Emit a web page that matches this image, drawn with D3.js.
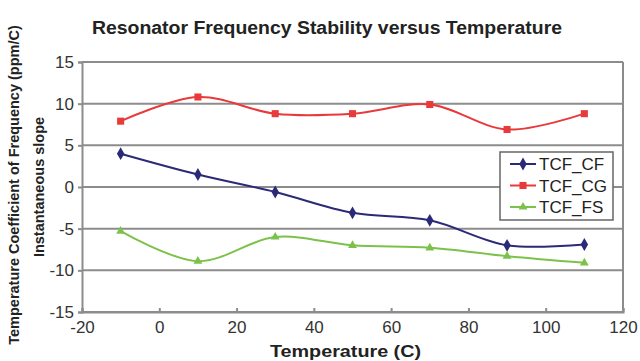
<!DOCTYPE html>
<html><head><meta charset="utf-8">
<script src="https://cdn.jsdelivr.net/npm/d3@7"></script>
<style>body{margin:0;background:#fff}svg{display:block}text{font-family:"Liberation Sans",Arial,sans-serif}</style>
</head><body><svg id="c" width="640" height="361"></svg>
<script>
const temps = [-10, 10, 30, 50, 70, 90, 110];
const tcfCF = [4.0, 1.5, -0.6, -3.1, -4.0, -7.0, -6.9];
const tcfCG = [7.9, 10.8, 8.8, 8.8, 9.9, 6.9, 8.8];
const tcfFS = [-5.3, -8.9, -6.0, -7.0, -7.3, -8.3, -9.1];
const seriesNames = ["TCF_CF", "TCF_CG", "TCF_FS"];
const xTicks = [-20, 0, 20, 40, 60, 80, 100, 120];
const yTicks = [-15, -10, -5, 0, 5, 10, 15];

const svg = d3.select("#c");
const L = 82, R = 623, T = 62, B = 312;
const x = d3.scaleLinear().domain([-20, 120]).range([L, R]);
const y = d3.scaleLinear().domain([-15, 15]).range([B, T]);
const grey = "#8c8c8c";

svg.append("text").attr("x", 92).attr("y", 34)
  .attr("font-weight", "bold").attr("font-size", 18).attr("fill", "#222")
  .attr("textLength", 470).attr("lengthAdjust", "spacingAndGlyphs")
  .text("Resonator Frequency Stability versus Temperature");

// gridlines
svg.append("g").selectAll("line").data(yTicks).join("line")
  .attr("x1", L).attr("x2", R).attr("y1", d => y(d)).attr("y2", d => y(d))
  .attr("stroke", grey).attr("stroke-width", 2);
// right border
svg.append("line").attr("x1", R).attr("x2", R).attr("y1", T).attr("y2", B)
  .attr("stroke", grey).attr("stroke-width", 2);

// axes
const fmt = d => String(d);
const ya = svg.append("g").attr("transform", `translate(${L},0)`)
  .call(d3.axisLeft(y).tickValues(yTicks).tickFormat(fmt).tickSize(4).tickPadding(4));
const xa = svg.append("g").attr("transform", `translate(0,${B})`)
  .call(d3.axisBottom(x).tickValues(xTicks).tickFormat(fmt).tickSize(-4).tickPadding(9));
[ya, xa].forEach(g => {
  g.select(".domain").attr("stroke", grey).attr("stroke-width", 2);
  g.selectAll(".tick line").attr("stroke", grey).attr("stroke-width", 2);
  g.selectAll("text").attr("font-size", 17).attr("fill", "#333").attr("font-family", "Liberation Sans, Arial, sans-serif");
});

svg.append("text").attr("x", 270).attr("y", 357)
  .attr("font-weight", "bold").attr("font-size", 17).attr("fill", "#222")
  .attr("textLength", 151).attr("lengthAdjust", "spacingAndGlyphs").text("Temperature (C)");
svg.append("text").attr("transform", "translate(19,185) rotate(-90)").attr("text-anchor", "middle")
  .attr("font-weight", "bold").attr("font-size", 14.5).attr("fill", "#222")
  .text("Temperature Coefficient of Frequency (ppm/C)");
svg.append("text").attr("transform", "translate(44,187) rotate(-90)").attr("text-anchor", "middle")
  .attr("font-weight", "bold").attr("font-size", 14.5).attr("fill", "#222")
  .text("Instantaneous slope");

const series = [
  {name: seriesNames[0], vals: tcfCF, color: "#2b2a78", sym: d3.symbolDiamond, size: 48},
  {name: seriesNames[1], vals: tcfCG, color: "#e83a3a", sym: d3.symbolSquare, size: 50},
  {name: seriesNames[2], vals: tcfFS, color: "#7cc24a", sym: d3.symbolTriangle, size: 34}
];
const line = d3.line().x((d, i) => x(temps[i])).y(d => y(d)).curve(d3.curveCatmullRom.alpha(0.5));
series.forEach(s => {
  svg.append("path").attr("d", line(s.vals)).attr("fill", "none")
    .attr("stroke", s.color).attr("stroke-width", 2);
  svg.append("g").selectAll("path").data(s.vals).join("path")
    .attr("transform", (d, i) => `translate(${x(temps[i])},${y(d)})`)
    .attr("d", d3.symbol().type(s.sym).size(s.size)).attr("fill", s.color);
});

// legend
const lg = svg.append("g");
lg.append("rect").attr("x", 500).attr("y", 152).attr("width", 113).attr("height", 68)
  .attr("fill", "#fff").attr("stroke", "#666").attr("stroke-width", 1.5);
series.forEach((s, i) => {
  const yy = 164 + i * 21.5;
  lg.append("line").attr("x1", 510).attr("x2", 536).attr("y1", yy).attr("y2", yy)
    .attr("stroke", s.color).attr("stroke-width", 2);
  lg.append("path").attr("transform", `translate(523,${yy})`)
    .attr("d", d3.symbol().type(s.sym).size(s.size)).attr("fill", s.color);
  lg.append("text").attr("x", 539).attr("y", yy + 6).attr("font-size", 17).attr("fill", "#222").text(s.name);
});
</script></body></html>
